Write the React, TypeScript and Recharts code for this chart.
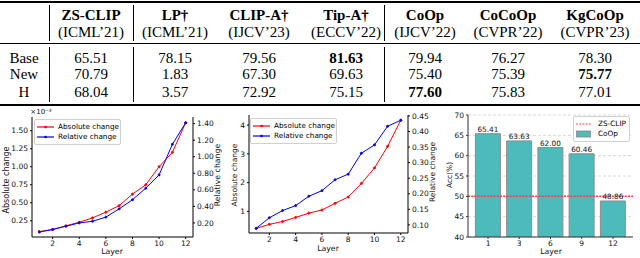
import React from 'react'
import {
  LineChart,
  Line,
  BarChart,
  Bar,
  XAxis,
  YAxis,
  CartesianGrid,
  Legend,
  ReferenceLine,
  LabelList,
} from 'recharts'

// table
const methods = ['ZS-CLIP', 'LP†', 'CLIP-A†', 'Tip-A†', 'CoOp', 'CoCoOp', 'KgCoOp']
const venues = ['(ICML’21)', '(ICML’21)', '(IJCV’23)', '(ECCV’22)', '(IJCV’22)', '(CVPR’22)', '(CVPR’23)']
const rowNames = ['Base', 'New', 'H']
const baseAcc = [65.51, 78.15, 79.56, 81.63, 79.94, 76.27, 78.3]
const newAcc = [70.79, 1.83, 67.3, 69.63, 75.4, 75.39, 75.77]
const hAcc = [68.04, 3.57, 72.92, 75.15, 77.6, 75.83, 77.01]

// left plot (x1e-3 absolute change)
const layers = [1, 2, 3, 4, 5, 6, 7, 8, 9, 10, 11, 12]
const absChange1 = [0.1, 0.13, 0.18, 0.23, 0.29, 0.37, 0.46, 0.62, 0.75, 1.0, 1.2, 1.61]
const relChange1 = [0.09, 0.12, 0.16, 0.2, 0.22, 0.27, 0.37, 0.48, 0.62, 0.78, 1.15, 1.41]

// middle plot
const absChange2 = [0.41, 0.55, 0.65, 0.79, 0.94, 1.05, 1.28, 1.5, 1.97, 2.51, 3.26, 4.17]
const relChange2 = [0.089, 0.123, 0.146, 0.162, 0.192, 0.21, 0.245, 0.263, 0.33, 0.357, 0.417, 0.436]

// right plot
const probeLayers = ['1', '3', '6', '9', '12']
const coopAcc = [65.41, 63.63, 62.0, 60.46, 48.86]
const zsClipAcc = 50

const FONT = '"DejaVu Sans", sans-serif'
const SERIF = '"Liberation Serif", "Times New Roman", serif'

const chart1Data = layers.map((layer, i) => ({ layer, abs: absChange1[i], rel: relChange1[i] }))
const chart2Data = layers.map((layer, i) => ({ layer, abs: absChange2[i], rel: relChange2[i] }))
const chart3Data = probeLayers.map((layer, i) => ({ layer, acc: coopAcc[i] }))

const colX = [91, 175, 259, 346, 425, 508, 595]
const rowY = [57.5, 74, 91.5]
const tableRows = [baseAcc, newAcc, hAcc]

const tick = { fontSize: 7.5, fill: '#111', fontFamily: FONT }
const axisLine = { stroke: '#000', strokeWidth: 1 }

type LegendItem = { label: string; color: string; kind: 'marker' | 'dash' | 'box' }

const lineLegend: LegendItem[] = [
  { label: 'Absolute change', color: '#ff0000', kind: 'marker' },
  { label: 'Relative change', color: '#0000ff', kind: 'marker' },
]
const barLegend: LegendItem[] = [
  { label: 'ZS-CLIP', color: '#ff4444', kind: 'dash' },
  { label: 'CoOp', color: '#4dbbbb', kind: 'box' },
]

function BoxLegend({ items, width, iconW, gap }: { items: LegendItem[]; width: number; iconW: number; gap: number }) {
  return (
    <div
      style={{
        width,
        boxSizing: 'border-box',
        border: '1px solid #d0d0d0',
        borderRadius: 2,
        background: '#fff',
        padding: '2px 2px',
        fontFamily: FONT,
        fontSize: 7.3,
        color: '#000',
        lineHeight: '10px',
      }}
    >
      {items.map((it) => (
        <div key={it.label} style={{ display: 'flex', alignItems: 'center', height: 10 }}>
          <svg width={iconW} height={10} style={{ marginRight: gap, flex: 'none' }}>
            {it.kind === 'box' ? (
              <rect x={0.5} y={2} width={iconW - 1} height={6} fill={it.color} stroke="#888" strokeWidth={0.8} />
            ) : (
              <line
                x1={0}
                y1={5}
                x2={iconW}
                y2={5}
                stroke={it.color}
                strokeWidth={1.2}
                strokeDasharray={it.kind === 'dash' ? '2 1.2' : undefined}
              />
            )}
            {it.kind === 'marker' && <circle cx={iconW / 2} cy={5} r={1.3} fill={it.color} />}
          </svg>
          <span style={{ whiteSpace: 'nowrap' }}>{it.label}</span>
        </div>
      ))}
    </div>
  )
}

function Cell({ x, y, bold, children }: { x: number; y: number; bold?: boolean; children: React.ReactNode }) {
  return (
    <div
      style={{
        position: 'absolute',
        left: x - 50,
        top: y - 8,
        width: 100,
        textAlign: 'center',
        fontFamily: SERIF,
        fontSize: 15,
        lineHeight: '16px',
        fontWeight: bold ? 700 : 400,
        whiteSpace: 'nowrap',
      }}
    >
      {children}
    </div>
  )
}

function Title({ x, y, text, size = 7.8, rotate = false }: { x: number; y: number; text: string; size?: number; rotate?: boolean }) {
  return (
    <div
      style={{
        position: 'absolute',
        left: x,
        top: y,
        transform: rotate ? 'translate(-50%, -50%) rotate(-90deg)' : 'translate(-50%, -50%)',
        fontFamily: FONT,
        fontSize: size,
        lineHeight: 1,
        whiteSpace: 'nowrap',
        color: '#111',
      }}
    >
      {text}
    </div>
  )
}

function Rule({ y, h }: { y: number; h: number }) {
  return <div style={{ position: 'absolute', left: 0, top: y, width: 640, height: h, background: '#000' }} />
}

function VRule({ x }: { x: number }) {
  return (
    <>
      <div style={{ position: 'absolute', left: x, top: 5, width: 1, height: 36, background: '#000' }} />
      <div style={{ position: 'absolute', left: x, top: 47, width: 1, height: 55, background: '#000' }} />
    </>
  )
}

export default function App() {
  return (
    <div style={{ position: 'absolute', left: 0, top: 0, width: 640, height: 258, background: '#fff', overflow: 'hidden' }}>
      {/* table */}
      <Rule y={1} h={1.5} />
      <Rule y={43} h={1} />
      <Rule y={104} h={1.5} />
      <VRule x={49} />
      <VRule x={133} />
      <VRule x={384} />
      {methods.map((m, i) => (
        <Cell key={m} x={colX[i]} y={15} bold>
          {m}
        </Cell>
      ))}
      {venues.map((v, i) => (
        <Cell key={i} x={colX[i]} y={31.5}>
          {v}
        </Cell>
      ))}
      {rowNames.map((r, ri) => {
        const vals = tableRows[ri]
        const best = Math.max(...vals)
        return (
          <React.Fragment key={r}>
            <Cell x={24} y={rowY[ri]}>{r}</Cell>
            {vals.map((v, ci) => (
              <Cell key={ci} x={colX[ci]} y={rowY[ri]} bold={v === best}>
                {v.toFixed(2)}
              </Cell>
            ))}
          </React.Fragment>
        )
      })}

      {/* left plot */}
      <div style={{ position: 'absolute', left: 0, top: 105 }}>
        <LineChart width={235} height={153} data={chart1Data} margin={{ top: 12, right: 0, bottom: 0, left: 0 }}>
          <XAxis
            dataKey="layer"
            type="number"
            domain={[0.45, 12.55]}
            allowDataOverflow
            ticks={[2, 4, 6, 8, 10, 12]}
            interval={0}
            height={21}
            tickSize={2}
            tickMargin={2}
            tick={tick}
            axisLine={axisLine}
            tickLine={axisLine}
          />
          <XAxis
            xAxisId="top"
            orientation="top"
            dataKey="layer"
            type="number"
            domain={[0.45, 12.55]}
            allowDataOverflow
            height={0}
            tick={false}
            tickLine={false}
            axisLine={axisLine}
          />
          <YAxis
            yAxisId="left"
            width={32}
            domain={[0.025, 1.69]}
            allowDataOverflow
            ticks={[0.25, 0.5, 0.75, 1.0, 1.25, 1.5]}
            interval={0}
            tickFormatter={(v: number) => v.toFixed(2)}
            tickSize={2}
            tickMargin={2}
            tick={tick}
            axisLine={axisLine}
            tickLine={axisLine}
          />
          <YAxis
            yAxisId="right"
            orientation="right"
            width={42}
            domain={[0.03, 1.48]}
            allowDataOverflow
            ticks={[0.2, 0.4, 0.6, 0.8, 1.0, 1.2, 1.4]}
            interval={0}
            tickFormatter={(v: number) => v.toFixed(2)}
            tickSize={2}
            tickMargin={2}
            tick={tick}
            axisLine={axisLine}
            tickLine={axisLine}
          />
          <Line yAxisId="left" dataKey="abs" stroke="#ff0000" strokeWidth={1} dot={{ r: 1, fill: '#ff0000', stroke: '#ff0000' }} isAnimationActive={false} />
          <Line yAxisId="right" dataKey="rel" stroke="#0000ff" strokeWidth={1} dot={{ r: 1, fill: '#0000ff', stroke: '#0000ff' }} isAnimationActive={false} />
          <Legend
            layout="vertical"
            align="center"
            verticalAlign="middle"
            wrapperStyle={{ left: 34, top: 14, width: 'auto' }}
            content={() => <BoxLegend items={lineLegend} width={87} iconW={17} gap={4} />}
          />
        </LineChart>
      </div>

      {/* middle plot */}
      <div style={{ position: 'absolute', left: 205, top: 105 }}>
        <LineChart width={240} height={153} data={chart2Data} margin={{ top: 10, right: 0, bottom: 4, left: 0 }}>
          <XAxis
            dataKey="layer"
            type="number"
            domain={[0.45, 12.55]}
            allowDataOverflow
            ticks={[2, 4, 6, 8, 10, 12]}
            interval={0}
            height={21}
            tickSize={2}
            tickMargin={2}
            tick={tick}
            axisLine={axisLine}
            tickLine={axisLine}
          />
          <XAxis
            xAxisId="top"
            orientation="top"
            dataKey="layer"
            type="number"
            domain={[0.45, 12.55]}
            allowDataOverflow
            height={0}
            tick={false}
            tickLine={false}
            axisLine={axisLine}
          />
          <YAxis
            yAxisId="left"
            width={44}
            domain={[0.25, 4.35]}
            allowDataOverflow
            ticks={[1, 2, 3, 4]}
            interval={0}
            tickSize={2}
            tickMargin={2}
            tick={tick}
            axisLine={axisLine}
            tickLine={axisLine}
          />
          <YAxis
            yAxisId="right"
            orientation="right"
            width={37}
            domain={[0.074, 0.453]}
            allowDataOverflow
            ticks={[0.1, 0.15, 0.2, 0.25, 0.3, 0.35, 0.4, 0.45]}
            interval={0}
            tickFormatter={(v: number) => v.toFixed(2)}
            tickSize={2}
            tickMargin={2}
            tick={tick}
            axisLine={axisLine}
            tickLine={axisLine}
          />
          <Line yAxisId="left" dataKey="abs" stroke="#ff0000" strokeWidth={1} dot={{ r: 1, fill: '#ff0000', stroke: '#ff0000' }} isAnimationActive={false} />
          <Line yAxisId="right" dataKey="rel" stroke="#0000ff" strokeWidth={1} dot={{ r: 1, fill: '#0000ff', stroke: '#0000ff' }} isAnimationActive={false} />
          <Legend
            layout="vertical"
            align="center"
            verticalAlign="middle"
            wrapperStyle={{ left: 45, top: 13, width: 'auto' }}
            content={() => <BoxLegend items={lineLegend} width={87} iconW={17} gap={4} />}
          />
        </LineChart>
      </div>

      {/* right plot */}
      <div style={{ position: 'absolute', left: 425, top: 105 }}>
        <BarChart width={215} height={153} data={chart3Data} margin={{ top: 10, right: 7, bottom: 0, left: 0 }}>
          <CartesianGrid vertical={false} stroke="#d8d8d8" strokeDasharray="3 2" />
          <XAxis
            dataKey="layer"
            type="category"
            padding={{ left: 4.4, right: 4.4 }}
            interval={0}
            height={21}
            tickSize={2}
            tickMargin={2}
            tick={tick}
            axisLine={{ stroke: '#333' }}
            tickLine={{ stroke: '#333' }}
          />
          <XAxis xAxisId="top" orientation="top" dataKey="layer" height={0} tick={false} tickLine={false} axisLine={{ stroke: '#444' }} />
          <YAxis
            width={43}
            domain={[40, 70]}
            allowDataOverflow
            ticks={[40, 45, 50, 55, 60, 65, 70]}
            interval={0}
            tickSize={2}
            tickMargin={2}
            tick={tick}
            axisLine={{ stroke: '#333' }}
            tickLine={{ stroke: '#333' }}
          />
          <YAxis yAxisId="r" orientation="right" width={0} domain={[40, 70]} tick={false} tickLine={false} axisLine={{ stroke: '#444' }} />
          <Bar dataKey="acc" fill="#4dbbbb" stroke="#8c8c8c" strokeWidth={1} barSize={25} isAnimationActive={false}>
            <LabelList
              dataKey="acc"
              position="top"
              offset={2}
              formatter={(v: any) => Number(v).toFixed(2)}
              style={{ fontSize: 7.3, fill: '#111', fontFamily: FONT }}
            />
          </Bar>
          <ReferenceLine y={zsClipAcc} stroke="#ff3b3b" strokeWidth={1.5} strokeDasharray="2 1.2" />
          <Legend
            layout="vertical"
            align="center"
            verticalAlign="middle"
            wrapperStyle={{ left: 148, top: 11, width: 'auto' }}
            content={() => <BoxLegend items={barLegend} width={57} iconW={15} gap={7} />}
          />
        </BarChart>
      </div>

      {/* axis titles */}
      <Title x={41} y={112} text="×10⁻³" size={7} />
      <Title x={7} y={180} text="Absolute change" size={8} rotate />
      <Title x={218} y={175} text="Relative change" size={7.8} rotate />
      <Title x={112} y={252} text="Layer" />
      <Title x={235} y={175} text="Absolute change" size={7.5} rotate />
      <Title x={433} y={172} text="Relative change" size={7.5} rotate />
      <Title x={328} y={249} text="Layer" />
      <Title x={450} y={175} text="Acc(%)" size={7.5} rotate />
      <Title x={551} y={252} text="Layer" />
    </div>
  )
}
